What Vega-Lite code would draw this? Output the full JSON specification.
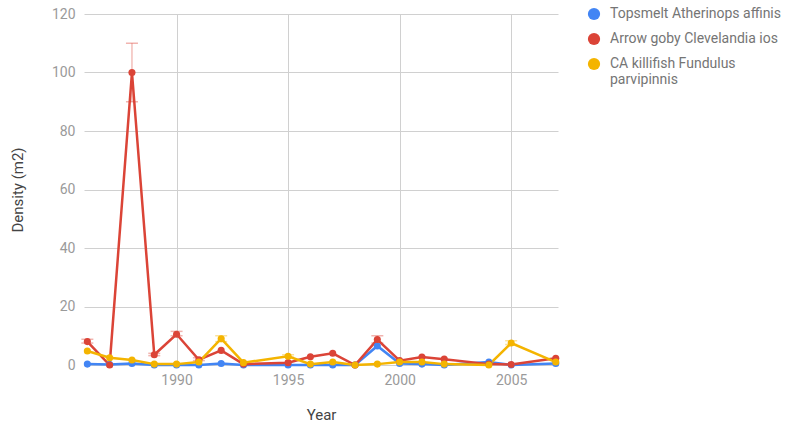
{
  "$schema": "https://vega.github.io/schema/vega-lite/v6.json",
  "autosize": "none",
  "width": 474,
  "height": 351,
  "padding": {"left": 84, "top": 14, "right": 228, "bottom": 63},
  "background": "white",
  "config": {
    "font": "Roboto",
    "view": {"stroke": null}
  },
  "data": {
    "values": [
      {"year": 1986, "series": "Topsmelt Atherinops affinis", "value": 0.3},
      {"year": 1987, "series": "Topsmelt Atherinops affinis", "value": 0.2},
      {"year": 1988, "series": "Topsmelt Atherinops affinis", "value": 0.5},
      {"year": 1989, "series": "Topsmelt Atherinops affinis", "value": 0},
      {"year": 1990, "series": "Topsmelt Atherinops affinis", "value": 0},
      {"year": 1991, "series": "Topsmelt Atherinops affinis", "value": 0},
      {"year": 1992, "series": "Topsmelt Atherinops affinis", "value": 0.5},
      {"year": 1993, "series": "Topsmelt Atherinops affinis", "value": 0},
      {"year": 1995, "series": "Topsmelt Atherinops affinis", "value": 0},
      {"year": 1996, "series": "Topsmelt Atherinops affinis", "value": 0},
      {"year": 1997, "series": "Topsmelt Atherinops affinis", "value": 0},
      {"year": 1998, "series": "Topsmelt Atherinops affinis", "value": 0},
      {"year": 1999, "series": "Topsmelt Atherinops affinis", "value": 6.5},
      {"year": 2000, "series": "Topsmelt Atherinops affinis", "value": 0.5},
      {"year": 2001, "series": "Topsmelt Atherinops affinis", "value": 0.3},
      {"year": 2002, "series": "Topsmelt Atherinops affinis", "value": 0},
      {"year": 2004, "series": "Topsmelt Atherinops affinis", "value": 1},
      {"year": 2005, "series": "Topsmelt Atherinops affinis", "value": 0},
      {"year": 2007, "series": "Topsmelt Atherinops affinis", "value": 0.5},

      {"year": 1986, "series": "Arrow goby Clevelandia ios", "value": 8, "lo": 7.5, "hi": 8.8},
      {"year": 1987, "series": "Arrow goby Clevelandia ios", "value": 0},
      {"year": 1988, "series": "Arrow goby Clevelandia ios", "value": 100, "lo": 90, "hi": 110},
      {"year": 1989, "series": "Arrow goby Clevelandia ios", "value": 3.5, "lo": 3.2, "hi": 4},
      {"year": 1990, "series": "Arrow goby Clevelandia ios", "value": 10.5, "lo": 10, "hi": 11.5},
      {"year": 1991, "series": "Arrow goby Clevelandia ios", "value": 1.8, "lo": 1.5, "hi": 2.5},
      {"year": 1992, "series": "Arrow goby Clevelandia ios", "value": 5},
      {"year": 1993, "series": "Arrow goby Clevelandia ios", "value": 0.3},
      {"year": 1995, "series": "Arrow goby Clevelandia ios", "value": 0.8},
      {"year": 1996, "series": "Arrow goby Clevelandia ios", "value": 2.8},
      {"year": 1997, "series": "Arrow goby Clevelandia ios", "value": 4},
      {"year": 1998, "series": "Arrow goby Clevelandia ios", "value": 0},
      {"year": 1999, "series": "Arrow goby Clevelandia ios", "value": 8.7, "lo": 7.5, "hi": 10},
      {"year": 2000, "series": "Arrow goby Clevelandia ios", "value": 1.5},
      {"year": 2001, "series": "Arrow goby Clevelandia ios", "value": 2.7},
      {"year": 2002, "series": "Arrow goby Clevelandia ios", "value": 2},
      {"year": 2004, "series": "Arrow goby Clevelandia ios", "value": 0.3},
      {"year": 2005, "series": "Arrow goby Clevelandia ios", "value": 0.2},
      {"year": 2007, "series": "Arrow goby Clevelandia ios", "value": 2.3},

      {"year": 1986, "series": "CA killifish Fundulus parvipinnis", "value": 4.8},
      {"year": 1987, "series": "CA killifish Fundulus parvipinnis", "value": 2.5},
      {"year": 1988, "series": "CA killifish Fundulus parvipinnis", "value": 1.7},
      {"year": 1989, "series": "CA killifish Fundulus parvipinnis", "value": 0.3},
      {"year": 1990, "series": "CA killifish Fundulus parvipinnis", "value": 0.3},
      {"year": 1991, "series": "CA killifish Fundulus parvipinnis", "value": 1},
      {"year": 1992, "series": "CA killifish Fundulus parvipinnis", "value": 9, "lo": 8, "hi": 10},
      {"year": 1993, "series": "CA killifish Fundulus parvipinnis", "value": 0.8},
      {"year": 1995, "series": "CA killifish Fundulus parvipinnis", "value": 3, "lo": 2.7, "hi": 3.5},
      {"year": 1996, "series": "CA killifish Fundulus parvipinnis", "value": 0.3},
      {"year": 1997, "series": "CA killifish Fundulus parvipinnis", "value": 1},
      {"year": 1998, "series": "CA killifish Fundulus parvipinnis", "value": 0},
      {"year": 1999, "series": "CA killifish Fundulus parvipinnis", "value": 0.3},
      {"year": 2000, "series": "CA killifish Fundulus parvipinnis", "value": 1},
      {"year": 2001, "series": "CA killifish Fundulus parvipinnis", "value": 1},
      {"year": 2002, "series": "CA killifish Fundulus parvipinnis", "value": 0.3},
      {"year": 2004, "series": "CA killifish Fundulus parvipinnis", "value": 0},
      {"year": 2005, "series": "CA killifish Fundulus parvipinnis", "value": 7.5, "lo": 7, "hi": 8.3},
      {"year": 2007, "series": "CA killifish Fundulus parvipinnis", "value": 1}
    ]
  },
  "encoding": {
    "x": {
      "field": "year", "type": "quantitative",
      "scale": {"domain": [1985.85, 2007.1], "nice": false, "zero": false},
      "axis": {
        "title": "Year", "values": [1990, 1995, 2000, 2005], "format": "d",
        "domain": false, "ticks": false, "grid": true, "gridColor": "#d0d0d0",
        "labelColor": "#9a9a9a", "labelFontSize": 14, "labelPadding": 8,
        "titleColor": "#444444", "titleFontSize": 15, "titleFontWeight": "normal", "titlePadding": 20
      }
    },
    "y": {
      "field": "value", "type": "quantitative",
      "scale": {"domain": [0, 120], "nice": false},
      "axis": {
        "title": "Density (m2)", "values": [0, 20, 40, 60, 80, 100, 120],
        "domain": false, "ticks": false, "grid": true, "gridColor": "#d0d0d0",
        "labelColor": "#9a9a9a", "labelFontSize": 14, "labelPadding": 9,
        "titleColor": "#444444", "titleFontSize": 15, "titleFontWeight": "normal", "titlePadding": 26
      }
    },
    "color": {
      "field": "series", "type": "nominal",
      "scale": {
        "domain": ["Topsmelt Atherinops affinis", "Arrow goby Clevelandia ios", "CA killifish Fundulus parvipinnis"],
        "range": ["#4285f4", "#db4437", "#f4b400"]
      },
      "legend": {
        "orient": "none", "legendX": 503, "legendY": -7,
        "title": null, "symbolType": "circle", "symbolSize": 150,
        "symbolStrokeWidth": 0, "symbolOpacity": 1,
        "labelColor": "#757575", "labelFontSize": 14, "labelOffset": 9,
        "rowPadding": 11, "padding": 0, "labelLimit": 200,
        "labelExpr": "datum.label == 'CA killifish Fundulus parvipinnis' ? ['CA killifish Fundulus', 'parvipinnis'] : datum.label"
      }
    }
  },
  "layer": [
    {
      "transform": [{"filter": "isValid(datum.lo)"}],
      "mark": {"type": "rule", "strokeWidth": 1.5, "opacity": 0.35},
      "encoding": {"y": {"field": "lo", "type": "quantitative"}, "y2": {"field": "hi"}}
    },
    {
      "transform": [{"filter": "isValid(datum.lo)"}],
      "mark": {"type": "tick", "orient": "horizontal", "size": 12, "thickness": 1.5, "opacity": 0.4},
      "encoding": {"y": {"field": "hi", "type": "quantitative"}}
    },
    {
      "transform": [{"filter": "isValid(datum.lo)"}],
      "mark": {"type": "tick", "orient": "horizontal", "size": 12, "thickness": 1.5, "opacity": 0.4},
      "encoding": {"y": {"field": "lo", "type": "quantitative"}}
    },
    {
      "mark": {"type": "line", "strokeWidth": 2.5, "point": {"size": 50, "filled": true, "opacity": 1}},
      "encoding": {}
    }
  ]
}
